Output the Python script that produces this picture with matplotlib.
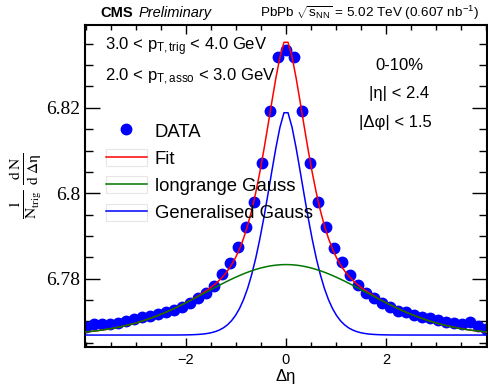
import numpy as np
import matplotlib
matplotlib.use('Agg')
import matplotlib.pyplot as plt
from matplotlib.lines import Line2D
from matplotlib.patches import Patch
from matplotlib.ticker import MultipleLocator, FixedLocator, FuncFormatter

plt.rcParams['font.family'] = ['Liberation Sans', 'DejaVu Sans']
plt.rcParams['mathtext.fontset'] = 'custom'
plt.rcParams['mathtext.rm'] = 'Liberation Sans'
plt.rcParams['mathtext.it'] = 'Liberation Sans:italic'
plt.rcParams['mathtext.bf'] = 'Liberation Sans:bold'

# delta eta bin centres
deta = [-4.00, -3.84, -3.68, -3.52, -3.36, -3.20, -3.04, -2.88, -2.72, -2.56,
        -2.40, -2.24, -2.08, -1.92, -1.76, -1.60, -1.44, -1.28, -1.12, -0.96,
        -0.80, -0.64, -0.48, -0.32, -0.16, 0.00, 0.16, 0.32, 0.48, 0.64,
        0.80, 0.96, 1.12, 1.28, 1.44, 1.60, 1.76, 1.92, 2.08, 2.24,
        2.40, 2.56, 2.72, 2.88, 3.04, 3.20, 3.36, 3.52, 3.68, 3.84, 4.00]

# 1/Ntrig dN/d deta
yield_ = [6.7686, 6.7694, 6.7694, 6.7695, 6.7697, 6.7700, 6.7705, 6.7710, 6.7713, 6.7718,
          6.7722, 6.7727, 6.7734, 6.7744, 6.7755, 6.7767, 6.7784, 6.7810, 6.7837, 6.7874,
          6.7920, 6.7980, 6.8071, 6.8193, 6.8320, 6.8335, 6.8320, 6.8193, 6.8072, 6.7980,
          6.7921, 6.7872, 6.7838, 6.7809, 6.7785, 6.7767, 6.7754, 6.7743, 6.7733, 6.7725,
          6.7721, 6.7715, 6.7711, 6.7708, 6.7704, 6.7699, 6.7696, 6.7694, 6.7698, 6.7690,
          6.7683]

xticks = [-2, 0, 2]

# fit parameters
fit_const = 6.7668
long_amp = 0.0165
long_sigma = 1.6
gg_amp = 0.0528
gg_alpha = 0.578
gg_beta = 1.6

curve_x = np.linspace(-4, 4, 100)
longrange = fit_const + long_amp * np.exp(-curve_x**2 / (2 * long_sigma**2))
gengauss = fit_const + gg_amp * np.exp(-np.abs(curve_x / gg_alpha)**gg_beta)
fit = longrange + gengauss - fit_const

fig = plt.figure(figsize=(4.88, 3.9), dpi=100)
ax = fig.add_axes([85/488, 1 - 347/390, 402/488, 322/390])

ax.plot(deta, yield_, 'o', color='#0000ff', ms=7.5, mec='#0000ff', zorder=2)
ax.plot(curve_x, fit, color='#ff0000', lw=1.1, zorder=3)
ax.plot(curve_x, gengauss, color='#0000ff', lw=1.1, zorder=4)
ax.plot(curve_x, longrange, color='#007700', lw=1.1, zorder=5)

ax.set_xlim(-4.02, 4.02)
ax.set_ylim(6.7640, 6.8394)

ax.xaxis.set_major_locator(FixedLocator(xticks))
ax.xaxis.set_minor_locator(MultipleLocator(0.5))
ax.yaxis.set_major_locator(MultipleLocator(0.02))
ax.yaxis.set_minor_locator(MultipleLocator(0.005))
ax.yaxis.set_major_formatter(FuncFormatter(lambda v, p: f'{v:g}'))

for s in ax.spines.values():
    s.set_linewidth(1.5)
ax.tick_params(which='both', direction='in', top=True, right=True, width=1.0)
ax.tick_params(axis='x', which='major', length=6.5, labelsize=10.5, pad=4)
ax.tick_params(axis='x', which='minor', length=3.6)
ax.tick_params(axis='y', which='major', length=10.8, labelsize=14, pad=3.5,
               labelfontfamily='Liberation Serif')
ax.tick_params(axis='y', which='minor', length=5.8)

ax.set_xlabel('Δη', fontsize=12, labelpad=2)
ax.set_ylabel(r'$\frac{1}{\mathrm{N_{trig}}}\;\frac{\mathrm{d\,N}}{\mathrm{d\;\Delta\eta}}$',
              fontsize=16, math_fontfamily='stix', labelpad=2)

# header
fig.text(100/488, 1 - 17/390, 'CMS', fontsize=10.5, fontweight='bold', va='baseline')
fig.text(139/488, 1 - 17/390, 'Preliminary', fontsize=10.5, style='italic', va='baseline')
fig.text(260/488, 1 - 17/390, r'PbPb $\sqrt{\mathrm{s_{NN}}}$ = 5.02 TeV (0.607 nb$^{-1}$)',
         fontsize=9.7, va='baseline')

fig.text(105/488, 1 - 50.7/390, r'3.0 < $\mathrm{p_{T,trig}}$ < 4.0 GeV', fontsize=12, va='baseline')
fig.text(105/488, 1 - 80.7/390, r'2.0 < $\mathrm{p_{T,asso}}$ < 3.0 GeV', fontsize=12, va='baseline')

fig.text(399/488, 1 - 70/390, '0-10%', fontsize=12, ha='center', va='baseline')
fig.text(399/488, 1 - 98/390, '|η| < 2.4', fontsize=12, ha='center', va='baseline')
fig.text(395/488, 1 - 126.7/390, '|Δφ| < 1.5', fontsize=12, ha='center', va='baseline')

box = dict(facecolor='white', edgecolor='#e6e6e6', lw=0.8)
handles = [
    Line2D([], [], marker='o', ls='none', color='#0000ff', ms=7.5),
    (Patch(**box), Line2D([], [], color='#ff0000', lw=1.1)),
    (Patch(**box), Line2D([], [], color='#007700', lw=1.1)),
    (Patch(**box), Line2D([], [], color='#0000ff', lw=1.1)),
]
labels = ['DATA', 'Fit', 'longrange Gauss', 'Generalised Gauss']
ax.legend(handles, labels, loc='upper left', bbox_to_anchor=(106/488, 1 - 122/390),
          bbox_transform=fig.transFigure, frameon=False, fontsize=13.3,
          handlelength=2.2, handleheight=1.05, handletextpad=0.45,
          labelspacing=0.45, borderpad=0, borderaxespad=0)

fig.savefig('out.png', dpi=100)
